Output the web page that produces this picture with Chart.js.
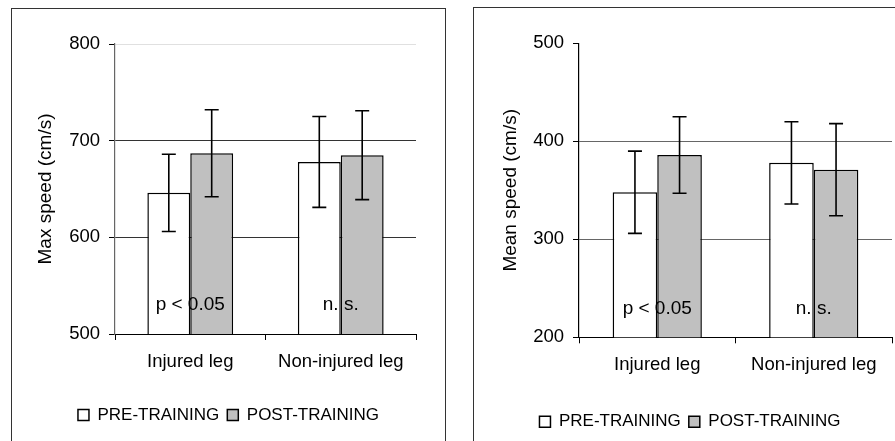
<!DOCTYPE html>
<html>
<head>
<meta charset="UTF-8">
<title>Speed before and after training</title>
<style>
  html, body { margin: 0; background: #fff; overflow: hidden; width: 895px; height: 441px; }
  .frame { position: absolute; border: 1px solid #333; box-sizing: border-box; }
  canvas { position: absolute; }
</style>
<script src="https://cdn.jsdelivr.net/npm/chart.js@4/dist/chart.umd.js"></script>
</head>
<body>
<div class="frame" style="left:11px;top:8px;width:435px;height:470px"></div>
<div class="frame" style="left:473px;top:7px;width:434px;height:470px"></div>
<canvas id="maxChart" style="left:12px;top:9px" width="433" height="432"></canvas>
<canvas id="meanChart" style="left:474px;top:8px" width="432" height="433"></canvas>
<script>
const legs = ['Injured leg', 'Non-injured leg'];
const seriesNames = ['PRE-TRAINING', 'POST-TRAINING'];
const notes = ['p < 0.05', 'n. s.'];

// max speed (cm/s)
const maxPre = [646, 678];
const maxPost = [687, 685];
const maxPreErr = [40, 47];
const maxPostErr = [45, 46];
const maxTicks = [500, 800, 100];

// mean speed (cm/s)
const meanPre = [348, 378];
const meanPost = [386, 371];
const meanPreErr = [42, 42];
const meanPostErr = [39, 47];
const meanTicks = [200, 500, 100];

const FONT = 'Liberation Sans, Arial, sans-serif';

const errorBars = {
  id: 'errorBars',
  afterDatasetsDraw(chart) {
    const ctx = chart.ctx, y = chart.scales.y;
    ctx.save();
    ctx.strokeStyle = '#000';
    ctx.lineWidth = 1.6;
    chart.data.datasets.forEach((ds, i) => {
      chart.getDatasetMeta(i).data.forEach((bar, j) => {
        const top = y.getPixelForValue(ds.data[j] + ds.err[j]);
        const bot = y.getPixelForValue(ds.data[j] - ds.err[j]);
        ctx.beginPath();
        ctx.moveTo(bar.x, top); ctx.lineTo(bar.x, bot);
        ctx.moveTo(bar.x - 7, top); ctx.lineTo(bar.x + 7, top);
        ctx.moveTo(bar.x - 7, bot); ctx.lineTo(bar.x + 7, bot);
        ctx.stroke();
      });
    });
    // significance notes
    const x = chart.scales.x;
    ctx.fillStyle = '#000';
    ctx.font = '19px ' + FONT;
    ctx.textAlign = 'center';
    ctx.textBaseline = 'middle';
    notes.forEach((t, j) => ctx.fillText(t, x.getPixelForValue(j), chart.chartArea.bottom - 29));
    ctx.restore();
  }
};

function makeChart(id, title, pre, post, preErr, postErr, ticks, o) {
  new Chart(document.getElementById(id), {
    type: 'bar',
    data: {
      labels: legs,
      datasets: [
        { label: seriesNames[0], data: pre, err: preErr, backgroundColor: '#fff', borderColor: '#000', borderWidth: 1.5, categoryPercentage: 0.57, barPercentage: 1 },
        { label: seriesNames[1], data: post, err: postErr, backgroundColor: '#c0c0c0', borderColor: '#000', borderWidth: 1.5, categoryPercentage: 0.57, barPercentage: 1 }
      ]
    },
    options: {
      responsive: false,
      animation: false,
      layout: { padding: { left: 0, right: 0, top: o.top, bottom: o.bottom } },
      plugins: {
        tooltip: { enabled: false },
        legend: {
          position: 'bottom',
          labels: { boxWidth: 11, boxHeight: 11, padding: 8, color: '#000', font: { family: FONT, size: 17 } }
        }
      },
      scales: {
        x: {
          grid: { drawOnChartArea: false, drawTicks: true, tickLength: 6, color: '#000' },
          border: { color: '#000', width: 1 },
          ticks: { color: '#000', padding: 11, font: { family: FONT, size: 18.5 }, maxRotation: 0 },
          afterFit: s => { s.height = o.xh; }
        },
        y: {
          min: ticks[0], max: ticks[1],
          ticks: { stepSize: ticks[2], color: '#000', padding: 9, font: { family: FONT, size: 18.5 } },
          grid: { color: c => c.tick.value === ticks[1] ? o.topGrid : o.grid, tickColor: '#000', tickLength: 6 },
          border: { color: o.axis, width: 1.2 },
          title: { display: true, text: title, color: '#000', font: { family: FONT, size: 19 }, padding: { top: o.tp, bottom: 0 } },
          afterFit: s => { s.width = o.yw; }
        },
        r: {
          position: 'right', display: true,
          grid: { display: false }, border: { display: false }, ticks: { display: false },
          afterFit: s => { s.width = o.rw; }
        }
      }
    },
    plugins: [errorBars]
  });
}

makeChart('maxChart', 'Max speed (cm/s)', maxPre, maxPost, maxPreErr, maxPostErr, maxTicks,
  { top: 35, bottom: 7.5, xh: 64.5, yw: 103, rw: 29, tp: 22, grid: '#333', topGrid: '#e0e0e0', axis: '#666' });
makeChart('meanChart', 'Mean speed (cm/s)', meanPre, meanPost, meanPreErr, meanPostErr, meanTicks,
  { top: 35.3, bottom: 0.8, xh: 67.9, yw: 105, rw: 14, tp: 25, grid: '#666', topGrid: 'rgba(0,0,0,0)', axis: '#000' });
</script>
</body>
</html>
